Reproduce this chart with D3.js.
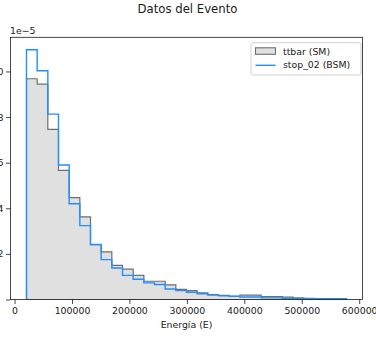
<!DOCTYPE html>
<html>
<head>
<meta charset="utf-8">
<script src="https://cdn.jsdelivr.net/npm/d3@7"></script>
<style>
  html, body { margin: 0; padding: 0; background: #fff; }
  svg { display: block; font-family: "DejaVu Sans", sans-serif; }
</style>
</head>
<body>
<svg id="chart" width="376" height="338"></svg>
<script>
// Histogram bin edges (energy), shared by both samples
const binEdges = [20800, 39370, 57940, 76510, 95080, 113650, 132220, 150790, 169360, 187930,
  206500, 225070, 243640, 262210, 280780, 299350, 317920, 336490, 355060, 373630,
  392200, 410770, 429340, 447910, 466480, 485050, 503620, 522190, 540760, 559330, 577900];

// Normalised densities per bin (units of 1e-6)
const ttbarDensity = [9.68, 9.44, 7.46, 5.66, 4.47, 3.62, 2.41, 2.09, 1.50, 1.33,
  1.06, 0.80, 0.80, 0.64, 0.44, 0.39, 0.29, 0.22, 0.18, 0.14,
  0.19, 0.19, 0.13, 0.13, 0.10, 0.07, 0.05, 0.04, 0.02, 0.02];
const stopDensity = [10.95, 10.03, 8.13, 5.90, 4.20, 3.24, 2.41, 1.75, 1.38, 1.06,
  0.89, 0.73, 0.66, 0.46, 0.39, 0.32, 0.25, 0.19, 0.16, 0.14,
  0.11, 0.11, 0.07, 0.07, 0.05, 0.04, 0.03, 0.03, 0.03, 0.03];

const seriesNames = ["ttbar (SM)", "stop_02 (BSM)"];
const xTicks = [0, 100000, 200000, 300000, 400000, 500000, 600000];
const yTicks = [0, 2e-6, 4e-6, 6e-6, 8e-6, 10e-6];
const yTickLabels = ["", "0.2", "0.4", "0.6", "0.8", "1.0"];

const svg = d3.select("#chart");
const plot = { left: 10.5, right: 362.5, top: 37.3, bottom: 299.5 };
const textColor = "#1a1a1a";

// Axis limits with 5% padding on x and 5% headroom on y
const xMin = binEdges[0], xMax = binEdges[binEdges.length - 1];
const pad = (xMax - xMin) * 0.05;
const yMaxData = d3.max([...ttbarDensity, ...stopDensity]) * 1e-6;

const x = d3.scaleLinear().domain([xMin - pad, xMax + pad]).range([plot.left, plot.right]);
const y = d3.scaleLinear().domain([0, yMaxData * 1.05]).range([plot.bottom, plot.top]);

// Step outline points for a histogram
function stepPoints(vals) {
  const pts = [[binEdges[0], 0]];
  vals.forEach((v, i) => {
    pts.push([binEdges[i], v * 1e-6]);
    pts.push([binEdges[i + 1], v * 1e-6]);
  });
  pts.push([binEdges[binEdges.length - 1], 0]);
  return pts;
}

const line = d3.line().x(d => x(d[0])).y(d => y(d[1]));

const clip = svg.append("defs").append("clipPath").attr("id", "plotclip")
  .append("rect")
  .attr("x", plot.left).attr("y", plot.top)
  .attr("width", plot.right - plot.left).attr("height", plot.bottom - plot.top);

const g = svg.append("g").attr("clip-path", "url(#plotclip)");

// ttbar: filled step histogram
g.append("path")
  .attr("d", line(stepPoints(ttbarDensity)) + "Z")
  .attr("fill", "#e0e0e0")
  .attr("stroke", "#6f6f6f")
  .attr("stroke-width", 1.2)
  .attr("stroke-linejoin", "miter");

// stop_02: outline step histogram
g.append("path")
  .attr("d", line(stepPoints(stopDensity)))
  .attr("fill", "none")
  .attr("stroke", "#1e90ff")
  .attr("stroke-width", 1.4)
  .attr("stroke-linejoin", "miter");

// Axes
const xAxis = d3.axisBottom(x).tickValues(xTicks).tickSize(4.5).tickPadding(3)
  .tickFormat(d3.format("d"));
const yAxis = d3.axisLeft(y).tickValues(yTicks).tickSize(4.5).tickPadding(2.5)
  .tickFormat((d, i) => yTickLabels[i]);

const gx = svg.append("g").attr("transform", `translate(0,${plot.bottom})`).call(xAxis);
const gy = svg.append("g").attr("transform", `translate(${plot.left},0)`).call(yAxis);
[gx, gy].forEach(a => {
  a.select(".domain").remove();
  a.selectAll(".tick line").attr("stroke", textColor).attr("stroke-width", 0.8);
  a.selectAll(".tick text").attr("fill", textColor)
    .style("font-size", "9.35px").style("font-family", "DejaVu Sans");
});

// Spines
svg.append("rect")
  .attr("x", plot.left).attr("y", plot.top)
  .attr("width", plot.right - plot.left).attr("height", plot.bottom - plot.top)
  .attr("fill", "none").attr("stroke", textColor).attr("stroke-width", 0.8);

// Title, axis label, offset text
svg.append("text").attr("x", (plot.left + plot.right) / 2 + 1).attr("y", 13)
  .attr("text-anchor", "middle").attr("fill", textColor)
  .style("font-size", "11.7px").text("Datos del Evento");

svg.append("text").attr("x", (plot.left + plot.right) / 2).attr("y", 327.5)
  .attr("text-anchor", "middle").attr("fill", textColor)
  .style("font-size", "9.35px").text("Energía (E)");

svg.append("text").attr("x", 10).attr("y", 33.5)
  .attr("fill", textColor)
  .style("font-size", "9.35px").text("1e\u22125");

// Legend
const lg = svg.append("g");
lg.append("rect")
  .attr("x", 251).attr("y", 42.7).attr("width", 110).attr("height", 32.3)
  .attr("rx", 2).attr("ry", 2)
  .attr("fill", "#fff").attr("fill-opacity", 0.8)
  .attr("stroke", "#cccccc").attr("stroke-width", 0.9);
lg.append("rect")
  .attr("x", 255.5).attr("y", 47.8).attr("width", 20).attr("height", 6.5)
  .attr("fill", "#e0e0e0").attr("stroke", "#6f6f6f").attr("stroke-width", 1.1);
lg.append("line")
  .attr("x1", 255.5).attr("x2", 275.5).attr("y1", 65.3).attr("y2", 65.3)
  .attr("stroke", "#1e90ff").attr("stroke-width", 1.4);
lg.append("text").attr("x", 283).attr("y", 54.5).attr("fill", textColor)
  .style("font-size", "9.35px").text(seriesNames[0]);
lg.append("text").attr("x", 283).attr("y", 68.3).attr("fill", textColor)
  .style("font-size", "9.35px").text(seriesNames[1]);
</script>
</body>
</html>
